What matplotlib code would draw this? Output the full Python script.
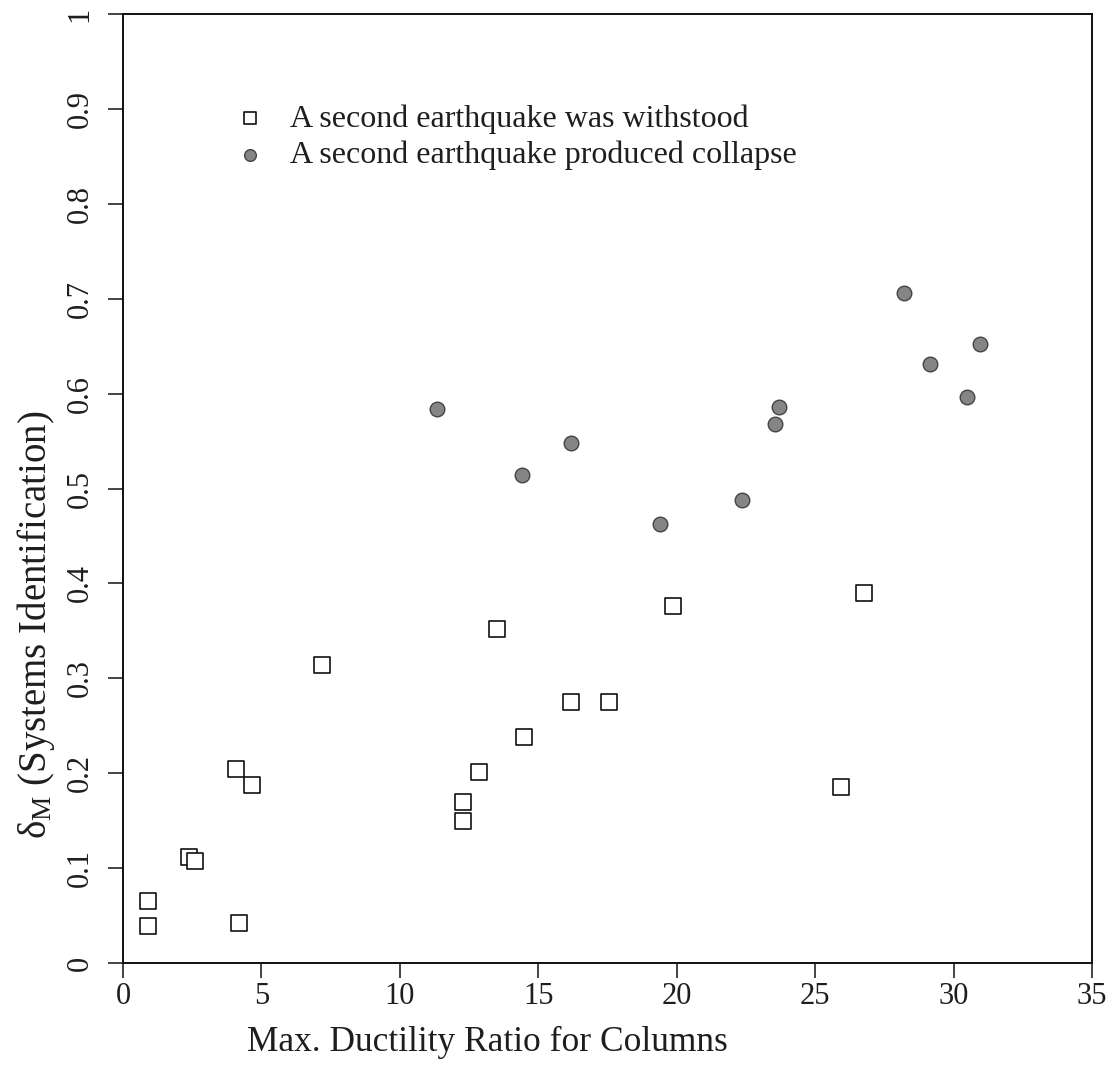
import matplotlib
matplotlib.use("Agg")
import matplotlib.pyplot as plt

# open squares: a second earthquake was withstood
x_withstood = [0.9, 0.9, 2.4, 2.6, 4.2, 4.1, 4.65, 7.2, 12.27, 12.27, 12.85,
               13.5, 14.5, 16.2, 17.55, 19.85, 25.95, 26.75]
y_withstood = [0.039, 0.065, 0.112, 0.107, 0.042, 0.204, 0.188, 0.314, 0.150, 0.170, 0.201,
               0.352, 0.238, 0.275, 0.275, 0.376, 0.185, 0.390]

# grey dots: a second earthquake produced collapse
x_collapse = [11.35, 14.4, 16.2, 19.4, 22.35, 23.57, 23.68, 28.2, 29.15, 30.47, 30.97]
y_collapse = [0.584, 0.514, 0.548, 0.463, 0.488, 0.568, 0.586, 0.706, 0.631, 0.596, 0.652]

x_ticks = [0, 5, 10, 15, 20, 25, 30, 35]
y_ticks = [0, 0.1, 0.2, 0.3, 0.4, 0.5, 0.6, 0.7, 0.8, 0.9, 1]
y_ticklabels = ["0", "0.1", "0.2", "0.3", "0.4", "0.5", "0.6", "0.7", "0.8", "0.9", "1"]

labels = ["A second earthquake was withstood", "A second earthquake produced collapse"]

plt.rcParams["font.family"] = ["Liberation Serif", "DejaVu Serif"]
plt.rcParams["mathtext.fontset"] = "custom"
plt.rcParams["mathtext.rm"] = "Liberation Serif"
plt.rcParams["mathtext.it"] = "Liberation Serif:italic"
txt = "#1e1e1e"

fig = plt.figure(figsize=(11.15, 10.65), dpi=100)
ax = fig.add_axes([0.1103, 0.0958, 0.869, 0.891])

ax.scatter(x_withstood, y_withstood, marker="s", s=120, facecolors="white",
           edgecolors="#111111", linewidths=1.2, label=labels[0], zorder=3)
ax.scatter(x_collapse, y_collapse, marker="o", s=110, facecolors="#858585",
           edgecolors="#444444", linewidths=1.0, label=labels[1], zorder=3)

ax.set_xlim(0, 35)
ax.set_ylim(0, 1)
ax.set_xticks(x_ticks)
ax.set_yticks(y_ticks)
ax.set_yticklabels(y_ticklabels, rotation=90, va="center")
ax.tick_params(direction="out", length=10.5, width=1.1, colors="#111111",
               labelcolor=txt, labelsize=22)
ax.tick_params(axis="x", pad=3)
ax.tick_params(axis="y", pad=10)
for s in ax.spines.values():
    s.set_linewidth(1.4)
    s.set_color("#111111")

ax.set_xlabel("Max. Ductility Ratio for Columns", fontsize=25.5, color=txt)
ax.xaxis.set_label_coords(0.376, -0.066)
ax.set_ylabel("δ$_\\mathrm{M}$ (Systems Identification)", fontsize=28, color=txt)
ax.yaxis.set_label_coords(-0.068, 0.356)

leg = ax.legend(loc="upper left", bbox_to_anchor=(0.1146, 0.905), frameon=False,
                fontsize=23, handlelength=1.0, handletextpad=0.75, labelspacing=0.22,
                borderpad=0, borderaxespad=0, markerscale=0.8)
for t in leg.get_texts():
    t.set_color(txt)

fig.savefig("out.png", dpi=100)
